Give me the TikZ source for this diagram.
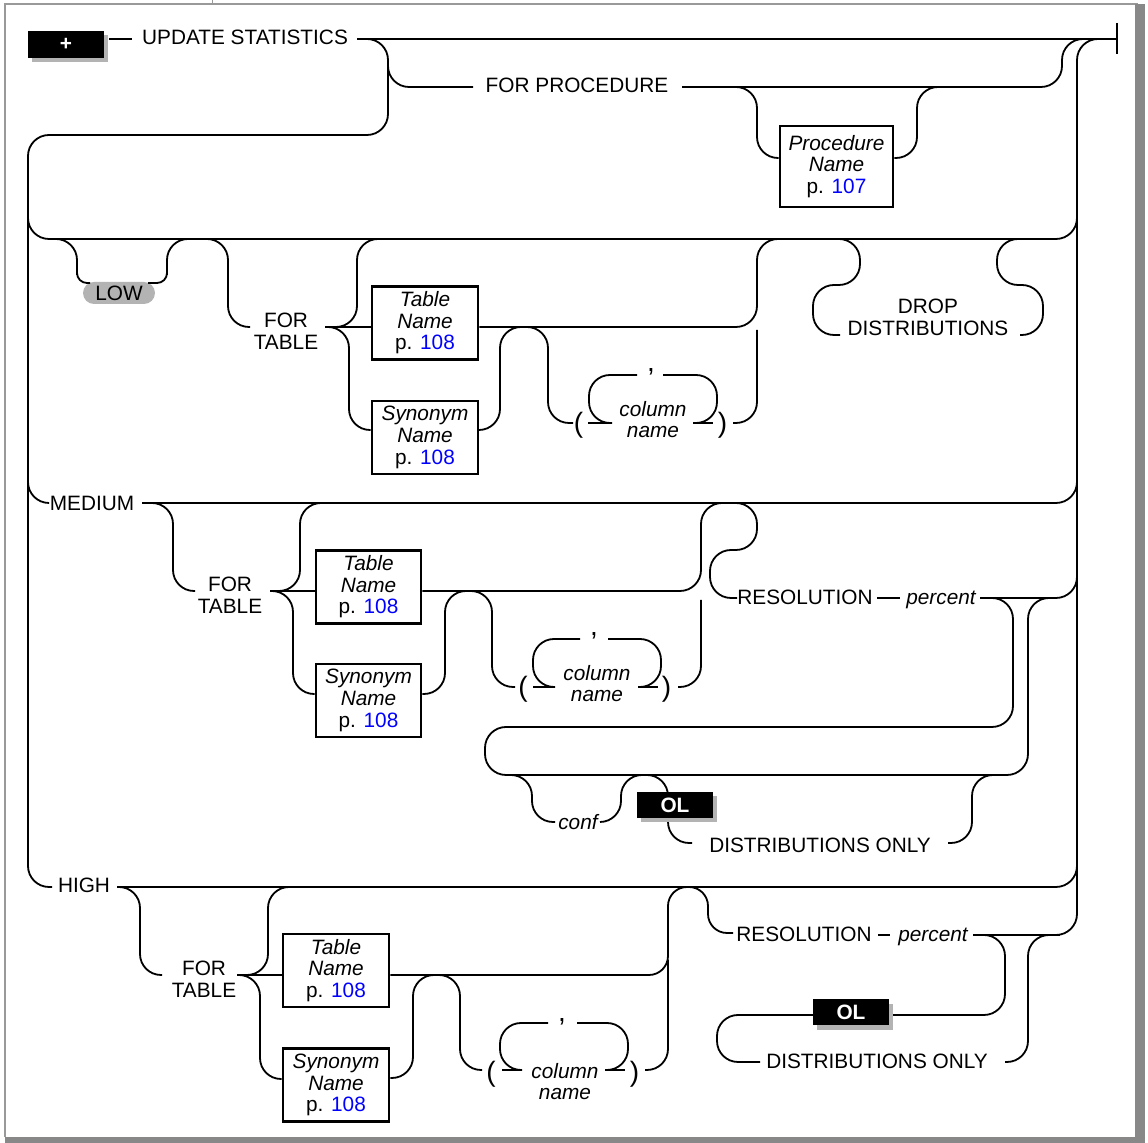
\documentclass[tikz,border=0pt]{standalone}
\usepackage{fontspec}
\setmainfont{Liberation Sans}
\usepackage{tikz}
\usetikzlibrary{shadows}
\definecolor{pgblue}{HTML}{0000FF}
\definecolor{framegray}{HTML}{888888}
\definecolor{pillgray}{HTML}{B3B3B3}
\newcommand{\seepage}[1]{p. \textcolor{pgblue}{#1}}

\begin{document}
\begin{tikzpicture}[
    x=0.5pt, y=-0.5pt,
    font=\fontsize{10.4}{10.8}\selectfont,
    rail/.style={line width=0.9pt, rounded corners=10.5pt},
    kw/.style={inner sep=0pt, align=center},
    var/.style={inner sep=0pt, align=center, font=\fontsize{10.4}{10.5}\selectfont\itshape},
    refbox/.style={draw, line width=1.4pt, inner sep=0pt, align=center,
                   minimum width=53pt, minimum height=36.5pt},
    flag/.style={fill=black, text=white, inner sep=0pt,
                 font=\fontsize{10.4}{10.4}\selectfont\bfseries,
                 minimum width=38pt, minimum height=13pt,
                 drop shadow={shadow xshift=2.2pt, shadow yshift=-2.2pt, fill=pillgray, opacity=1}},
    pill/.style={fill=pillgray, rounded corners=5.5pt, inner sep=0pt,
                 minimum width=36pt, minimum height=11pt},
    paren/.style={inner sep=0pt, font=\fontsize{14}{14}\selectfont}
  ]
\useasboundingbox (0,0) rectangle (1148,1143);

% ---------------- page frame ----------------
\draw[black!40, line width=1pt] (5,1137) -- (5,4) -- (1138,4);
\draw[black!40, line width=0.5pt] (212,0) -- (212,4);
\fill[framegray] (1135,4) rectangle (1145,1143);
\fill[framegray] (5,1137) rectangle (1145,1143);

% ---------------- statement head ----------------
\node[kw] (upd) at (245,37) {UPDATE STATISTICS};
\node[kw] (forproc) at (577,85) {FOR PROCEDURE};
\node[refbox, minimum width=56.5pt, minimum height=40.5pt] (procname) at (836.5,166.5)
  {\textit{Procedure}\\\textit{Name}\\\seepage{107}};

% ---------------- LOW level ----------------
\node[pill] (low) at (119,293) {LOW};
\node[kw] (ftlow) at (286,331) {FOR\\TABLE};
\node[refbox] (tnlow) at (425,323) {\textit{Table}\\\textit{Name}\\\seepage{108}};
\node[refbox] (snlow) at (425,437.5) {\textit{Synonym}\\\textit{Name}\\\seepage{108}};
\node[paren] (lplow) at (578.5,425) {(};
\node[paren] (cmlow) at (651,372) {,};
\node[var] (cnlow) at (653,420) {column\\name};
\node[paren] (rplow) at (722.5,425) {)};
\node[kw] (drop) at (928,317.5) {DROP\\DISTRIBUTIONS};

% ---------------- MEDIUM level ----------------
\node[kw] (medium) at (92,503.5) {MEDIUM};
\node[kw] (ftmed) at (230,595) {FOR\\TABLE};
\node[refbox, minimum width=52.5pt] (tnmed) at (368.5,587) {\textit{Table}\\\textit{Name}\\\seepage{108}};
\node[refbox, minimum width=52.5pt] (snmed) at (368.5,700.5) {\textit{Synonym}\\\textit{Name}\\\seepage{108}};
\node[paren] (lpmed) at (523,689.5) {(};
\node[paren] (cmmed) at (594,636) {,};
\node[var] (cnmed) at (597,683.5) {column\\name};
\node[paren] (rpmed) at (666.5,689.5) {)};
\node[kw] (resmed) at (805,597.5) {RESOLUTION};
\node[var, anchor=base] (pctmed) at (941,605) {percent};
\node[var, anchor=base] (conf) at (578,830) {conf};
\node[kw] (distmed) at (820,845) {DISTRIBUTIONS ONLY};

% ---------------- HIGH level ----------------
\node[kw] (high) at (84,885.5) {HIGH};
\node[kw] (fthigh) at (204,979) {FOR\\TABLE};
\node[refbox] (tnhigh) at (336,970.5) {\textit{Table}\\\textit{Name}\\\seepage{108}};
\node[refbox] (snhigh) at (336,1085) {\textit{Synonym}\\\textit{Name}\\\seepage{108}};
\node[paren] (lphigh) at (491,1074.5) {(};
\node[paren] (cmhigh) at (562,1022) {,};
\node[var] (cnhigh) at (565,1082) {column\\name};
\node[paren] (rphigh) at (634.5,1074.5) {)};
\node[kw] (reshigh) at (804,934.5) {RESOLUTION};
\node[var, anchor=base] (pcthigh) at (933,942) {percent};
\node[kw] (disthigh) at (877,1061) {DISTRIBUTIONS ONLY};

% ---------------- main rail ----------------
\draw[rail] (109,39) -- (132,39);
\draw[rail] (357,39) -- (1117,39);
\draw[rail] (1117,23) -- (1117,54);
% loop down to the level column, and the collector on the right
\draw[rail] (357,39) -| (388,135) -| (28,887) -- (52,887);
\draw[rail] (1100,39) -| (1077,935) -- (1053,935);

% FOR PROCEDURE
\draw[rail] (388,60) |- (473,87);
\draw[rail] (682,87) -| (1062,39) -- (1090,39);
\draw[rail] (733,87) -| (757,158) -- (procname.west |- 0,158);
\draw[rail] (procname.east |- 0,158) -| (917,87) -- (940,87);

% ---------------- LOW rails ----------------
\draw[rail] (28,200) |- (1077,239) -- (1077,200);
\draw[rail] (53,239) -| (77,275);
\draw[rail, rounded corners=5pt] (77,262) |- (90,283);
\draw[rail, rounded corners=5pt] (148,283) -| (167,262);
\draw[rail] (167,275) |- (190,239);
\draw[rail] (205,239) -| (228,327) -- (250,327);
\draw[rail] (325,327) -| (357,239) -- (380,239);
\draw[rail] (325,327) -- (tnlow.west |- 0,327);
\draw[rail] (325,327) -| (349,430) -- (snlow.west |- 0,430);
\draw[rail] (tnlow.east |- 0,327) -| (757,239) -- (780,239);
\draw[rail] (snlow.east |- 0,430) -| (500,327) -| (548,423) -- (573,423);
\draw[rail] (588,423) -- (612,423);
\draw[rail] (693,423) -- (713,423);
\draw[rail] (612,423) -| (589,375) -- (637,375);
\draw[rail] (663,375) -| (717,423) -- (693,423);
\draw[rail] (733,423) -| (757,330);
\draw[rail] (837,239) -| (860,285) -| (813,335) -- (840,335);
\draw[rail] (1020,335) -| (1043,285) -| (997,239) -- (1020,239);

% ---------------- MEDIUM rails ----------------
\draw[rail] (28,470) |- (48,503);
\draw[rail] (142,503) -| (1077,470);
\draw[rail] (152,503) -| (173,591) -- (195,591);
\draw[rail] (270,591) -| (300,503) -- (325,503);
\draw[rail] (270,591) -- (tnmed.west |- 0,591);
\draw[rail] (270,591) -| (293,694) -- (snmed.west |- 0,694);
\draw[rail] (tnmed.east |- 0,591) -| (701,503) -| (757,550) -| (710,598) -- (737,598);
\draw[rail] (snmed.east |- 0,694) -| (445,591) -| (492,687) -- (515,687);
\draw[rail] (533,687) -- (555,687);
\draw[rail] (638,687) -- (658,687);
\draw[rail] (555,687) -| (533,639) -- (580,639);
\draw[rail] (608,639) -| (661,687) -- (638,687);
\draw[rail] (678,687) -| (701,600);
\draw[rail] (877,598) -- (900,598);
\draw[rail] (980,598) -| (1077,560);
\draw[rail] (980,598) -| (1013,727) -| (485,775) -| (1028,598) -- (1053,598);
\draw[rail] (508,775) -| (532,822) -- (555,822);
\draw[rail] (600,822) -| (621,775) -| (668,843) -- (692,843);
\draw[rail] (948,843) -| (972,775) -- (997,775);

% ---------------- HIGH rails ----------------
\draw[rail] (117,887) -| (1077,850);
\draw[rail] (117,887) -| (140,975) -- (162,975);
\draw[rail] (237,975) -| (268,887) -- (292,887);
\draw[rail] (237,975) -- (tnhigh.west |- 0,975);
\draw[rail] (237,975) -| (260,1079) -- (snhigh.west |- 0,1079);
\draw[rail, rounded corners=9.5pt] (tnhigh.east |- 0,975) -| (668,887) -| (708,933) -- (733,933);
\draw[rail] (snhigh.east |- 0,1078) -| (413,975) -| (460,1070) -- (482,1070);
\draw[rail] (502,1070) -- (520,1070);
\draw[rail] (605,1070) -- (625,1070);
\draw[rail] (522,1070) -| (500,1023) -- (548,1023);
\draw[rail] (577,1023) -| (628,1070) -- (605,1070);
\draw[rail] (645,1070) -| (668,960);
\draw[rail] (878,935) -- (890,935);
\draw[rail] (973,935) -- (1060,935);
\draw[rail] (980,935) -| (1005,1015) -| (717,1062) -- (760,1062);
\draw[rail] (1005,1062) -| (1028,935) -- (1053,935);

% ---------------- flags on top ----------------
\node[flag, minimum height=13.5pt] (plus) at (66,44.5) {+};
\node[flag] (olmed) at (675,805) {OL};
\node[flag] (olhigh) at (851,1012.5) {OL};

\end{tikzpicture}
\end{document}
